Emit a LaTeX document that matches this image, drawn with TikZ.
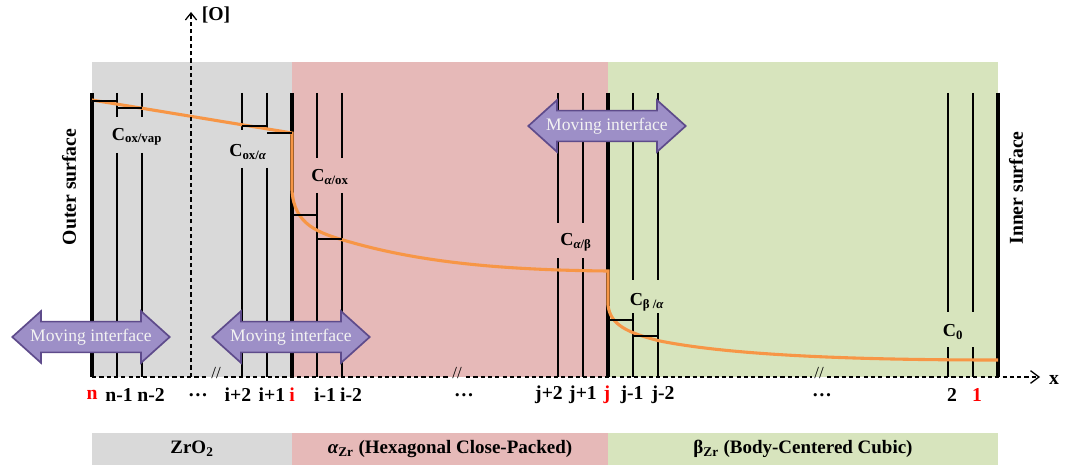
\documentclass[tikz,border=0pt]{standalone}
\usepackage{fontspec}
\setmainfont{Liberation Serif}
\usepackage{tikz}
\usetikzlibrary{arrows.meta, shapes.arrows}
\definecolor{zgray}{HTML}{D9D9D9}
\definecolor{zpink}{HTML}{E6B9B8}
\definecolor{zgreen}{HTML}{D7E4BD}
\definecolor{zorange}{HTML}{F79646}
\definecolor{zpurple}{HTML}{9D8FC7}
\definecolor{zpurpdk}{HTML}{5E4B8B}

\begin{document}
\begin{tikzpicture}[x=0.025cm, y=-0.025cm,
  cell/.style={black, line width=1.1pt},
  wall/.style={black, line width=2.3pt},
  tick/.style={black, line width=1pt},
  profile/.style={zorange, line width=2.2pt},
  axisline/.style={black, line width=0.9pt, dash pattern=on 3pt off 2.2pt},
  clabel/.style={font=\bfseries\fontsize{13}{13}\selectfont},
  idx/.style={font=\bfseries\fontsize{14}{14}\selectfont},
  redidx/.style={idx, text=red},
  phase/.style={font=\bfseries\fontsize{13.5}{14}\selectfont},
  surface/.style={font=\bfseries\fontsize{14}{14}\selectfont, rotate=90},
  moving/.style={double arrow, draw=zpurpdk, fill=zpurple, line width=1.2pt,
    double arrow head extend=0.26cm, double arrow tip angle=84,
    minimum height=3.75cm, inner xsep=0pt, inner ysep=4.5pt,
    text height=9pt, text depth=2.7pt, text=white!95!black,
    font=\fontsize{12.5}{12.5}\selectfont}]
\useasboundingbox (0,0) rectangle (1068,466);
% phase regions
\fill[zgray] (92,62) rectangle (292,377);
\fill[zpink] (292,62) rectangle (608,377);
\fill[zgreen] (608,62) rectangle (998,377);
% cell boundaries
\draw[wall] (92,93) -- (92,377);
\draw[cell] (117,93) -- (117,117) (117,153) -- (117,377);
\draw[cell] (142,93) -- (142,117) (142,153) -- (142,377);
\draw[cell] (242,93) -- (242,130) (242,168) -- (242,377);
\draw[cell] (267,93) -- (267,130) (267,168) -- (267,377);
\draw[wall] (292,93) -- (292,377);
\draw[cell] (317,93) -- (317,158) (317,193) -- (317,377);
\draw[cell] (342,93) -- (342,158) (342,193) -- (342,377);
\draw[cell] (558,93) -- (558,223) (558,258) -- (558,377);
\draw[cell] (583,93) -- (583,223) (583,258) -- (583,377);
\draw[wall] (608,93) -- (608,377);
\draw[cell] (633,93) -- (633,280) (633,313) -- (633,377);
\draw[cell] (658,93) -- (658,280) (658,313) -- (658,377);
\draw[cell] (948,93) -- (948,312) (948,347) -- (948,377);
\draw[cell] (973,93) -- (973,312) (973,347) -- (973,377);
\draw[wall] (998,93) -- (998,377);
% concentration profile
\draw[profile] (92,100) -- (292,133) -- (292,190)
  .. controls (294,225) and (318,233) .. (350,242)
  .. controls (420,262) and (500,270) .. (608,271) -- (608,305)
  .. controls (610,325) and (628,333) .. (660,341)
  .. controls (730,355) and (850,360) .. (998,360);
\draw[tick] (92,101) -- (117,101) (117,108) -- (142,108);
\draw[tick] (242,126) -- (267,126) (267,133) -- (292,133);
\draw[tick] (292,215) -- (317,215) (317,239) -- (342,239);
\draw[tick] (608,320) -- (633,320) (633,336) -- (658,336);
% axes
\draw[axisline] (92,377) -- (208,377);
\draw[axisline] (224,377) -- (449,377);
\draw[axisline] (466,377) -- (812,377);
\draw[axisline, -{Straight Barb[length=6pt, width=9pt]}] (827,377) -- (1040,377);
\draw[axisline, -{Straight Barb[length=5pt, width=8pt]}] (191,377) -- (191,12);
\node[font=\fontsize{12}{12}\selectfont] (brk1) at (216,373) {//};
\node[font=\fontsize{12}{12}\selectfont] (brk2) at (457,373) {//};
\node[font=\fontsize{12}{12}\selectfont] (brk3) at (819,373) {//};
\node[font=\bfseries\fontsize{14}{14}\selectfont] (oaxis) at (216,15) {[O]};
\node[font=\bfseries\fontsize{14}{14}\selectfont] (xaxis) at (1054,380) {x};
% surfaces
\node[surface] (outer) at (69,187) {Outer surface};
\node[surface] (inner) at (1016,188) {Inner surface};
% concentration labels
\node[clabel] (cvap) at (137,137) {C\textsubscript{ox/vap}};
\node[clabel] (coxa) at (248,152) {C\textsubscript{ox/\itshape α}};
\node[clabel] (caox) at (330,177) {C\textsubscript{\itshape α\upshape/ox}};
\node[clabel] (cab) at (576,242) {C\textsubscript{\itshape α\upshape/β}};
\node[clabel] (cba) at (647,302) {C\textsubscript{β /\itshape α}};
\node[clabel] (czero) at (953,332) {C\textsubscript{0}};
% moving interfaces
\node[moving] (mi1) at (91,337) {Moving interface};
\node[moving] (mi2) at (291,337) {Moving interface};
\node[moving] (mi3) at (607,126) {Moving interface};
% cell indices
\node[redidx] (n) at (92,395) {n};
\node[idx] at (119,395) {n-1};
\node[idx] at (151,395) {n-2};
\node[idx] at (198,395) {\dots};
\node[idx] at (238,395) {i+2};
\node[idx] at (272,395) {i+1};
\node[redidx] (i) at (292,395) {i};
\node[idx] at (325,395) {i-1};
\node[idx] at (351,395) {i-2};
\node[idx] at (464,395) {\dots};
\node[idx] at (549,395) {j+2};
\node[idx] at (583,395) {j+1};
\node[redidx] (j) at (607,395) {j};
\node[idx] at (632,395) {j-1};
\node[idx] at (663,395) {j-2};
\node[idx] at (822,395) {\dots};
\node[idx] at (952,395) {2};
\node[redidx] (one) at (977,395) {1};
% phase bar
\fill[zgray] (92,433) rectangle (292,465);
\fill[zpink] (292,433) rectangle (608,465);
\fill[zgreen] (608,433) rectangle (998,465);
\node[phase] (zro) at (192,449) {ZrO\textsubscript{2}};
\node[phase] (alpha) at (450,449) {{\itshape α}\textsubscript{Zr} (Hexagonal Close-Packed)};
\node[phase] (beta) at (803,449) {β\textsubscript{Zr} (Body-Centered Cubic)};
\end{tikzpicture}
\end{document}
